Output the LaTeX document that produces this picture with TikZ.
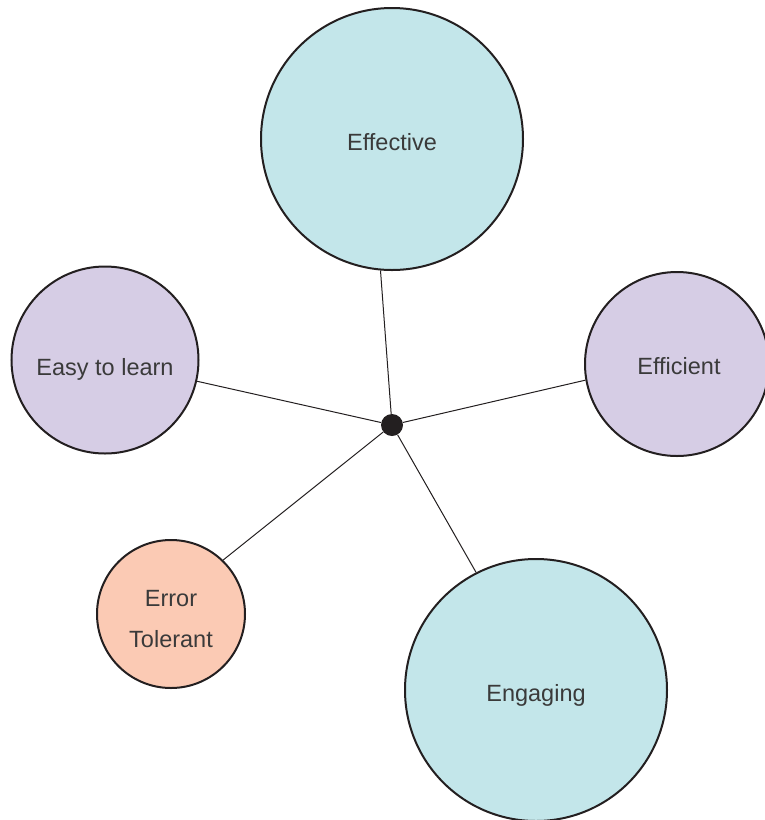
\documentclass[tikz,border=0pt]{standalone}
\usepackage{fontspec}
\setmainfont{Liberation Sans}
\definecolor{cyanfill}{HTML}{C3E6EA}
\definecolor{lavfill}{HTML}{D6CDE5}
\definecolor{peachfill}{HTML}{FBCAB4}
\definecolor{outl}{HTML}{231F20}
\definecolor{txt}{HTML}{3A3A3A}
\begin{document}
\begin{tikzpicture}[x=1pt,y=-1pt,
  bubble/.style={circle,draw=outl,line width=2pt,inner sep=0pt},
  lbl/.style={text=txt,font=\fontsize{23.5}{41}\selectfont,align=center,inner sep=0pt},
  spoke/.style={draw=outl,line width=1pt}]
\useasboundingbox (0,0) rectangle (765,820);
\clip (0,0) rectangle (765,820);
\node[bubble,fill=cyanfill,minimum size=262pt] (eff) at (392,139) {};
\node[bubble,fill=lavfill,minimum size=187pt] (easy) at (105,360) {};
\node[bubble,fill=lavfill,minimum size=184pt] (effi) at (677,364) {};
\node[bubble,fill=peachfill,minimum size=148pt] (err) at (171,614) {};
\node[bubble,fill=cyanfill,minimum size=262pt] (eng) at (536,690) {};
\node[circle,fill=outl,minimum size=22pt,inner sep=0pt] (hub) at (392,425) {};
\draw[spoke] (hub) -- (eff.265);
\draw[spoke] (hub) -- (easy.347.5);
\draw[spoke] (hub) -- (effi.190.5);
\draw[spoke] (hub) -- (err.46);
\draw[spoke] (hub) -- (eng.117.3);
\node[lbl] (teff) at (392,142) {Effective};
\node[lbl] (teasy) at (105,369) {Easy to learn};
\node[lbl] (teffi) at (679,366) {Efficient};
\node[lbl] (terr) at (171,619) {Error\\Tolerant};
\node[lbl] (teng) at (536,695) {Engaging};
\end{tikzpicture}
\end{document}
